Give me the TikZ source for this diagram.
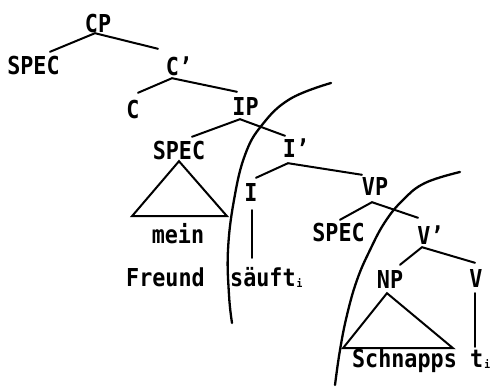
\documentclass[tikz,border=0pt]{standalone}
\usepackage{fontspec}
\usetikzlibrary{calc}
\newfontfamily\treefont[FakeStretch=0.88]{DejaVu Sans Mono}
\newcommand\idx{\kern1pt\raisebox{-1pt}{\fontsize{11}{11}\selectfont i}}
\tikzset{
  lab/.style={font=\treefont\bfseries\fontsize{24.7}{26}\selectfont, inner sep=0pt, text height=18pt, text depth=0pt},
  edge/.style={line width=2pt, line cap=round},
  bigcurve/.style={line width=2.3pt, line cap=round},
}
\begin{document}
\begin{tikzpicture}[x=1pt,y=-1pt]
\fill[white] (0,0) rectangle (490,387);
\useasboundingbox (0,0) rectangle (490,387);
% labels
\node[lab] (cp) at (98,24) {CP};
\node[lab] (speca) at (33.5,66) {SPEC};
\node[lab] (cbar) at (179,67) {C’};
\node[lab] (c) at (133,110) {C};
\node[lab] (ip) at (245.5,107) {IP};
\node[lab] (specb) at (179,151) {SPEC};
\node[lab] (ibar) at (296,149) {I’};
\node[lab] (i) at (251,193) {I};
\node[lab, anchor=base] (mein) at (178,244) {mein};
\node[lab, anchor=base] (freund) at (165.5,287) {Freund};
\node[lab, anchor=base west] (sauft) at (230,287) {säuft\idx};
\node[lab] (vp) at (375,187) {VP};
\node[lab] (specc) at (338.5,233) {SPEC};
\node[lab] (vbar) at (430.5,236) {V’};
\node[lab] (np) at (390,280) {NP};
\node[lab] (v) at (476,279) {V};
\node[lab, anchor=base] (schn) at (404.5,367) {Schnapps};
\node[lab, anchor=base west] (ti) at (470,367) {t\idx};
% branches
\draw[edge] ($(speca.north)+(16.5,-5)$) -- ($(cp.south)+(-3,0)$) -- ($(cbar.north)+(-21,-9)$);
\draw[edge] ($(c.north)+(5,-8)$) -- ($(cbar.south)+(-7,2)$) -- ($(ip.north)+(-8.5,-6)$);
\draw[edge] ($(specb.north)+(13,-5)$) -- ($(ip.south)+(-5.5,3)$) -- ($(ibar.north)+(-11,-4)$);
\draw[edge] ($(i.north)+(5,-6)$) -- ($(ibar.south)+(-8,5)$) -- ($(vp.north)+(-13,-3)$);
\draw[edge] ($(specc.north)+(1.5,-4)$) -- ($(vp.south)+(-3,6)$) -- ($(vbar.north)+(-12.5,-9)$);
\draw[edge] ($(np.north)+(10,-6)$) -- ($(vbar.south)+(-8.5,2)$) -- ($(v.north)+(-1,-7)$);
% vertical lines
\draw[edge] ($(i.south)+(1,8)$) -- ($(sauft.north west)+(22,-11)$);
\draw[edge] ($(v.south)+(-1,5)$) -- ($(ti.north west)+(5,-2)$);
% triangles
\draw[edge] ($(specb.south)+(0,1)$) -- ($(specb.south)+(-47,56)$) -- ($(specb.south)+(48,56)$) -- cycle;
\draw[edge] ($(np.south)+(-3,4)$) -- ($(np.south)+(-47,59)$) -- ($(np.south)+(63,59)$) -- cycle;
% boundary curves
\draw[bigcurve] plot[smooth, tension=0.7] coordinates {(331,83) (290,99) (262,125) (245,155) (234,200) (228,250) (229,295) (232,323)};
\draw[bigcurve] plot[smooth, tension=0.7] coordinates {(460,172) (425,183) (403,200) (385,222) (370,250) (357,280) (347,315) (340,350) (335,385)};
\end{tikzpicture}
\end{document}
